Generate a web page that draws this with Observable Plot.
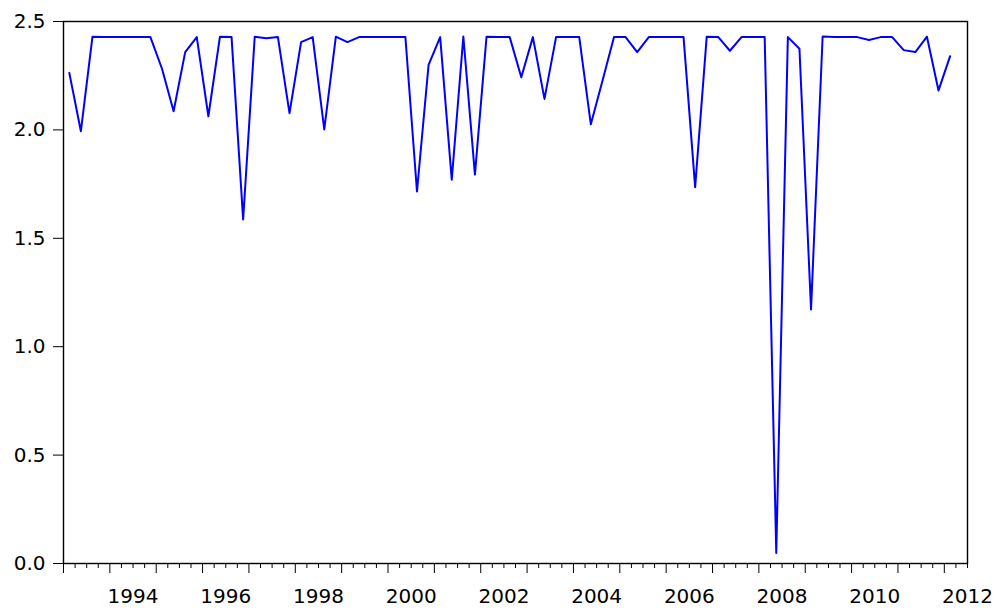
<!DOCTYPE html>
<html>
<head>
<meta charset="utf-8">
<script src="https://cdn.jsdelivr.net/npm/d3@7"></script>
<script src="https://cdn.jsdelivr.net/npm/@observablehq/plot@0.6"></script>
<style>
  html, body { margin: 0; padding: 0; background: #fff; }
  #chart { width: 1000px; height: 611px; }
</style>
</head>
<body>
<div id="chart"></div>
<script>
// Quarterly periods (1993Q1 .. 2012Q1)
const periods = [
  "1993Q1","1993Q2","1993Q3","1993Q4","1994Q1","1994Q2","1994Q3","1994Q4",
  "1995Q1","1995Q2","1995Q3","1995Q4","1996Q1","1996Q2","1996Q3","1996Q4",
  "1997Q1","1997Q2","1997Q3","1997Q4","1998Q1","1998Q2","1998Q3","1998Q4",
  "1999Q1","1999Q2","1999Q3","1999Q4","2000Q1","2000Q2","2000Q3","2000Q4",
  "2001Q1","2001Q2","2001Q3","2001Q4","2002Q1","2002Q2","2002Q3","2002Q4",
  "2003Q1","2003Q2","2003Q3","2003Q4","2004Q1","2004Q2","2004Q3","2004Q4",
  "2005Q1","2005Q2","2005Q3","2005Q4","2006Q1","2006Q2","2006Q3","2006Q4",
  "2007Q1","2007Q2","2007Q3","2007Q4","2008Q1","2008Q2","2008Q3","2008Q4",
  "2009Q1","2009Q2","2009Q3","2009Q4","2010Q1","2010Q2","2010Q3","2010Q4",
  "2011Q1","2011Q2","2011Q3","2011Q4","2012Q1"
];

// Series values
const values = [
  2.263, 1.994, 2.430, 2.428, 2.428, 2.428, 2.428, 2.428,
  2.282, 2.086, 2.359, 2.428, 2.063, 2.430, 2.428, 1.587,
  2.430, 2.423, 2.428, 2.077, 2.405, 2.428, 2.002, 2.430,
  2.405, 2.428, 2.428, 2.428, 2.428, 2.428, 1.716, 2.300,
  2.428, 1.770, 2.431, 1.794, 2.430, 2.428, 2.428, 2.243,
  2.428, 2.143, 2.428, 2.428, 2.428, 2.026, 2.226, 2.428,
  2.428, 2.359, 2.428, 2.428, 2.428, 2.428, 1.736, 2.430,
  2.428, 2.365, 2.428, 2.428, 2.428, 0.048, 2.428, 2.374,
  1.172, 2.431, 2.428, 2.428, 2.428, 2.415, 2.428, 2.428,
  2.368, 2.359, 2.430, 2.182, 2.340
];

// Axis ticks / labels
const yTicks = [0, 0.5, 1.0, 1.5, 2.0, 2.5];
const yearTicks = [1993,1994,1995,1996,1997,1998,1999,2000,2001,2002,2003,
                   2004,2005,2006,2007,2008,2009,2010,2011,2012];
const yearLabels = [1994,1996,1998,2000,2002,2004,2006,2008,2010,2012];
const axisStart = 1993, axisEnd = 2012.5;

// Build table: each quarter plotted at the centre of its interval
const data = periods.map((p, i) => {
  const yr = +p.slice(0, 4), q = +p.slice(5);
  return { period: p, t: yr + (q - 1) / 4 + 0.125, value: values[i] };
});
const quarterTicks = [];
for (const y of yearTicks) for (const q of [0.25, 0.5, 0.75]) if (y + q <= axisEnd) quarterTicks.push(y + q);

const font = "'DejaVu Sans', 'Liberation Sans', Arial, sans-serif";

const chart = Plot.plot({
  width: 1000,
  height: 611,
  marginLeft: 63,
  marginRight: 33,
  marginTop: 21,
  marginBottom: 48,
  style: { background: "#fff", fontFamily: font, fontSize: "20px", color: "#000" },
  x: { type: "linear", domain: [axisStart, axisEnd] },
  y: { domain: [0, 2.5] },
  marks: [
    Plot.axisY(yTicks, {
      tickSize: 10, tickPadding: 8, stroke: "#000", fontSize: 20,
      tickFormat: d3.format(".1f"), label: null
    }),
    Plot.axisX(quarterTicks, { tickSize: 5, tickFormat: () => "", stroke: "#000", label: null }),
    Plot.axisX(yearTicks, { tickSize: 10, tickFormat: () => "", stroke: "#000", label: null }),
    Plot.axisX(yearLabels.map(y => y + 0.5), {
      tickSize: 0, tickPadding: 25, fontSize: 20,
      tickFormat: d => String(Math.floor(d)), label: null
    }),
    Plot.line(data, { x: "t", y: "value", stroke: "#0000ff", strokeWidth: 2 }),
    Plot.frame({ stroke: "#000", strokeWidth: 1.4 })
  ]
});
document.getElementById("chart").appendChild(chart);
</script>
</body>
</html>
